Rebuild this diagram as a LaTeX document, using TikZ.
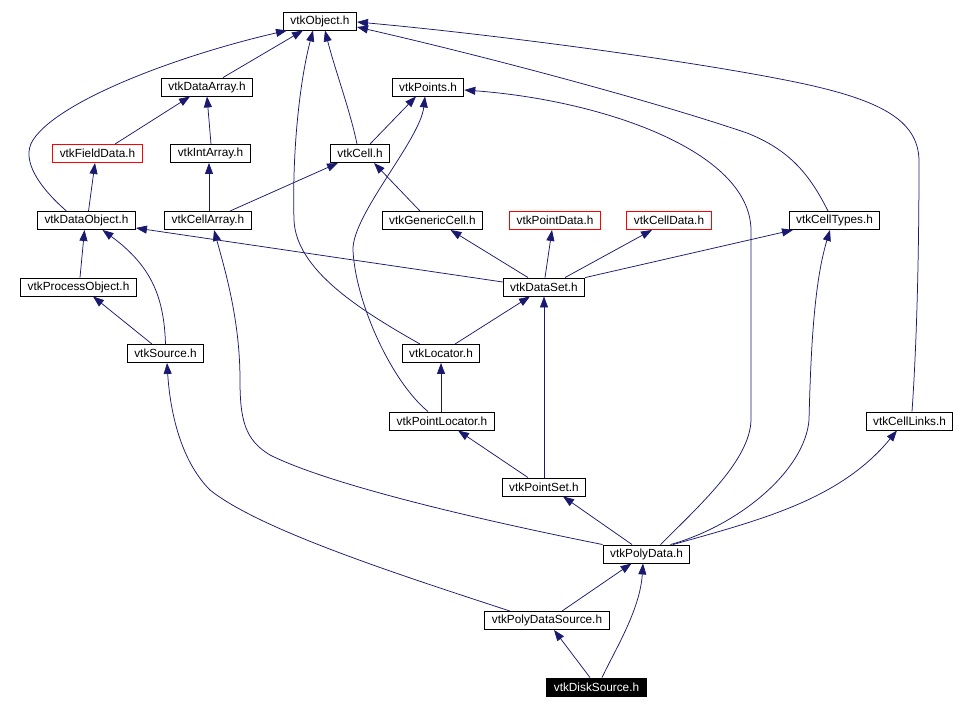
\documentclass[tikz,border=0pt]{standalone}
\usepackage{fontspec}
\setmainfont{Liberation Sans}
\usetikzlibrary{arrows.meta}
\definecolor{edgeblue}{HTML}{191970}

\begin{document}
\begin{tikzpicture}[
    x=1pt, y=-1pt,
    header/.style={
        rectangle,
        draw=black,
        fill=white,
        line width=0.9pt,
        minimum height=18pt,
        inner xsep=7pt,
        inner ysep=2pt,
        font=\fontsize{11.8}{13}\selectfont
    },
    missing/.style={header, draw=red},
    current/.style={header, fill=black, text=white},
    incl/.style={
        draw=edgeblue,
        line width=0.75pt,
        -{Triangle[length=11pt,width=8pt]}
    }
]
    \useasboundingbox (0,0) rectangle (958,709);

    % --- HEADERS ---
    \node [header] (obj) at (320,21) {vtkObject.h};
    \node [header] (darr) at (207,87) {vtkDataArray.h};
    \node [header] (pts) at (428,87) {vtkPoints.h};
    \node [missing] (fld) at (97.5,153.5) {vtkFieldData.h};
    \node [header] (iarr) at (210.5,153.5) {vtkIntArray.h};
    \node [header] (cell) at (360,153.5) {vtkCell.h};
    \node [header] (dobj) at (86.5,220.5) {vtkDataObject.h};
    \node [header] (carr) at (208,220.5) {vtkCellArray.h};
    \node [header] (gcell) at (432.5,220.5) {vtkGenericCell.h};
    \node [missing] (pdat) at (555,220.5) {vtkPointData.h};
    \node [missing] (cdat) at (669,220.5) {vtkCellData.h};
    \node [header] (ctyp) at (834.5,220.5) {vtkCellTypes.h};
    \node [header] (pobj) at (78.5,287) {vtkProcessObject.h};
    \node [header] (dset) at (544,287) {vtkDataSet.h};
    \node [header] (src) at (165.5,353.5) {vtkSource.h};
    \node [header] (loc) at (441,353.5) {vtkLocator.h};
    \node [header] (ploc) at (442,421) {vtkPointLocator.h};
    \node [header] (clnk) at (909.5,421) {vtkCellLinks.h};
    \node [header] (pset) at (544,487) {vtkPointSet.h};
    \node [header] (pdata) at (646.5,554) {vtkPolyData.h};
    \node [header] (pdsrc) at (547,620.5) {vtkPolyDataSource.h};
    \node [current] (disk) at (596.5,687) {vtkDiskSource.h};

    % --- INCLUDES ---
    % arrays and cells
    \draw [incl] ([xshift=16]darr.north) -- ([xshift=-17]obj.south);
    \draw [incl] ([xshift=17.5]fld.north) -- ([xshift=-17]darr.south);
    \draw [incl] ([xshift=0.5]iarr.north) -- (darr.south);
    \draw [incl] ([xshift=1]carr.north) -- ([xshift=-1.5]iarr.south);
    \draw [incl] ([xshift=22]carr.north) -- ([xshift=-22]cell.south);
    \draw [incl] ([xshift=-3]cell.north) .. controls (350,110) and (335,70) .. ([xshift=5]obj.south);
    \draw [incl] ([xshift=10]cell.north) -- ([xshift=-12]pts.south);
    \draw [incl] ([xshift=-12.5]gcell.north) -- ([xshift=14]cell.south);

    % vtkDataObject.h
    \draw [incl] ([xshift=2]dobj.north) -- ([xshift=-2.5]fld.south);
    \draw [incl] ([xshift=-20]dobj.north) .. controls (40,188) and (20,160) .. (33,140)
        .. controls (59,100) and (180,55) .. ([xshift=-33]obj.south);

    % vtkProcessObject.h, vtkSource.h
    \draw [incl] ([xshift=1.5]pobj.north) -- ([xshift=-2]dobj.south);
    \draw [incl] ([xshift=-13.5]src.north) -- ([xshift=14.5]pobj.south);
    \draw [incl] (src.north) .. controls (164,295) and (150,265) .. ([xshift=16]dobj.south);

    % vtkDataSet.h
    \draw [incl] ([yshift=5]dset.west) -- ([yshift=-7.5]dobj.east);
    \draw [incl] ([xshift=-16]dset.north) -- ([xshift=18]gcell.south);
    \draw [incl] ([xshift=1]dset.north) -- ([xshift=-3]pdat.south);
    \draw [incl] ([xshift=21]dset.north) -- ([xshift=-17]cdat.south);
    \draw [incl] (dset.north east) -- ([xshift=-41.5]ctyp.south);

    % vtkLocator.h, vtkPointLocator.h
    \draw [incl] ([xshift=14]loc.north) -- ([xshift=-14]dset.south);
    \draw [incl] ([xshift=-21]loc.north) .. controls (360,310) and (296,270) .. (294,220)
        .. controls (292,150) and (300,80) .. ([xshift=-7]obj.south);
    \draw [incl] ([xshift=-1]ploc.north) -- (loc.south);
    \draw [incl] ([xshift=-14]ploc.north) .. controls (390,380) and (355,300) .. (353,250)
        .. controls (352,215) and (420,140) .. ([xshift=-3]pts.south);

    % vtkPointSet.h
    \draw [incl] (pset.north) -- (dset.south);
    \draw [incl] ([xshift=-16]pset.north) -- ([xshift=16]ploc.south);

    % vtkPolyData.h
    \draw [incl] ([xshift=-14.5]pdata.north) -- ([xshift=19]pset.south);
    \draw [incl] (pdata.north west) .. controls (480,520) and (330,485) .. (270,455)
        .. controls (245,440) and (240,420) .. (240,380)
        .. controls (240,320) and (225,270) .. ([xshift=6]carr.south);
    \draw [incl] ([xshift=14]pdata.north) .. controls (700,505) and (750,460) .. (751,420)
        -- (751,230) .. controls (750,150) and (600,100) .. ([yshift=-3]pts.east);
    \draw [incl] ([xshift=24]pdata.north) .. controls (740,525) and (805,470) .. (809,420)
        .. controls (811,340) and (815,280) .. ([xshift=-4.5]ctyp.south);
    \draw [incl] ([xshift=26.5]pdata.north) .. controls (760,520) and (840,500) .. ([xshift=-12.5]clnk.south);

    % vtkCellTypes.h, vtkCellLinks.h
    \draw [incl] ([xshift=-6.5]ctyp.north) .. controls (810,175) and (790,150) .. (747,133)
        .. controls (650,100) and (480,55) .. ([yshift=-6]obj.east);
    \draw [incl] ([xshift=2.5]clnk.north) .. controls (917,340) and (919,250) .. (919,160)
        .. controls (918,120) and (880,100) .. (800,83)
        .. controls (700,62) and (500,35) .. ([yshift=-1]obj.east);

    % vtkPolyDataSource.h
    \draw [incl] ([xshift=15]pdsrc.north) -- ([xshift=-15]pdata.south);
    \draw [incl] ([xshift=-37]pdsrc.north) .. controls (400,575) and (260,530) .. (210,490)
        .. controls (180,460) and (170,410) .. ([xshift=1.5]src.south);

    % vtkDiskSource.h
    \draw [incl] ([xshift=-6.5]disk.north) -- ([xshift=7]pdsrc.south);
    \draw [incl] ([xshift=5.5]disk.north) .. controls (615,650) and (640,610) .. ([xshift=-3.5]pdata.south);

\end{tikzpicture}
\end{document}
